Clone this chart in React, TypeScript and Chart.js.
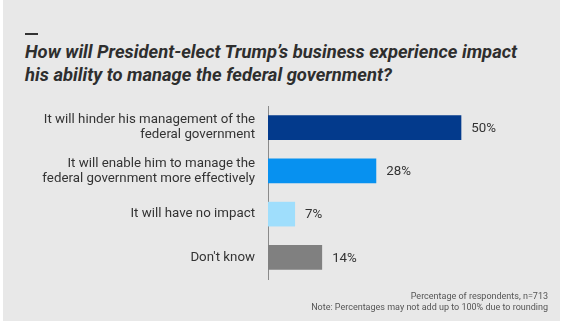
import React, { useEffect, useRef } from "react";
import { Chart, registerables } from "chart.js";

Chart.register(...registerables);

const titleLines = [
  "How will President-elect Trump’s business experience impact",
  "his ability to manage the federal government?",
];
const categories: string[][] = [
  ["It will hinder his management of the", "federal government"],
  ["It will enable him to manage the", "federal government more effectively"],
  ["It will have no impact"],
  ["Don't know"],
];
const values = [50, 28, 7, 14];
const barColors = ["#033a8c", "#0791f0", "#9fdefc", "#808080"];
const footnotes = [
  "Percentage of respondents, n=713",
  "Note: Percentages may not add up to 100% due to rounding",
];

const FONT = "Roboto, 'Noto Sans', Arial, sans-serif";
const PAD = 34;

const valueLabelPlugin = {
  id: "valueLabels",
  afterDatasetsDraw(chart: any) {
    const ctx = chart.ctx;
    const meta = chart.getDatasetMeta(0);
    ctx.save();
    ctx.font = `13.3px ${FONT}`;
    ctx.fillStyle = "#333333";
    ctx.textAlign = "left";
    ctx.textBaseline = "middle";
    meta.data.forEach((bar: any, i: number) => {
      ctx.fillText(values[i] + "%", bar.x + 10, bar.y + 1);
    });
    ctx.restore();
  },
};

export default function App() {
  const canvasRef = useRef<HTMLCanvasElement | null>(null);

  useEffect(() => {
    if (!canvasRef.current) return;
    const chart = new Chart(canvasRef.current, {
      type: "bar",
      data: {
        labels: categories,
        datasets: [
          {
            data: values,
            backgroundColor: barColors,
            barPercentage: 0.57,
            categoryPercentage: 1,
          },
        ],
      },
      options: {
        indexAxis: "y",
        animation: false,
        responsive: false,
        maintainAspectRatio: false,
        layout: { padding: { top: PAD, bottom: PAD, left: 0, right: 63 } },
        plugins: {
          legend: { display: false },
          tooltip: { enabled: false },
          title: { display: false },
        },
        scales: {
          x: {
            display: false,
            min: 0,
            max: 60,
            grid: { display: false },
          },
          y: {
            afterFit: (scale: any) => {
              scale.width = 268;
            },
            grid: { display: false, drawTicks: false },
            border: { display: true, color: "#8a8a8a", width: 1 },
            ticks: {
              padding: 13,
              color: "#333333",
              font: { family: FONT, size: 13.3, lineHeight: 1.12 },
            },
          },
        },
      },
      plugins: [valueLabelPlugin],
    });
    return () => chart.destroy();
  }, []);

  return (
    <div
      style={{
        position: "fixed",
        left: 0,
        top: 0,
        width: 563,
        height: 329,
        background: "#ffffff",
        overflow: "hidden",
      }}
    >
      <div
        style={{
          position: "absolute",
          left: 3,
          top: 0,
          width: 557,
          height: 321,
          background: "#e8e8e8",
        }}
      />
      <div
        style={{
          position: "absolute",
          left: 25,
          top: 33,
          width: 13,
          height: 2,
          background: "#333333",
        }}
      />
      <div
        style={{
          position: "absolute",
          left: 25,
          top: 40,
          fontFamily: FONT,
          fontWeight: 700,
          fontStyle: "italic",
          fontSize: 18.4,
          lineHeight: "23px",
          color: "#2e2e2e",
          whiteSpace: "nowrap",
        }}
      >
        {titleLines.map((t, i) => (
          <div key={i}>{t}</div>
        ))}
      </div>
      <canvas
        ref={canvasRef}
        width={563}
        height={173 + 2 * PAD}
        style={{
          position: "absolute",
          left: 0,
          top: 106 - PAD,
          width: 563,
          height: 173 + 2 * PAD,
        }}
      />
      <div
        style={{
          position: "absolute",
          right: 15,
          top: 291,
          fontFamily: FONT,
          fontSize: 9,
          lineHeight: "10.5px",
          color: "#555555",
          textAlign: "right",
          whiteSpace: "nowrap",
        }}
      >
        {footnotes.map((t, i) => (
          <div key={i}>{t}</div>
        ))}
      </div>
    </div>
  );
}
